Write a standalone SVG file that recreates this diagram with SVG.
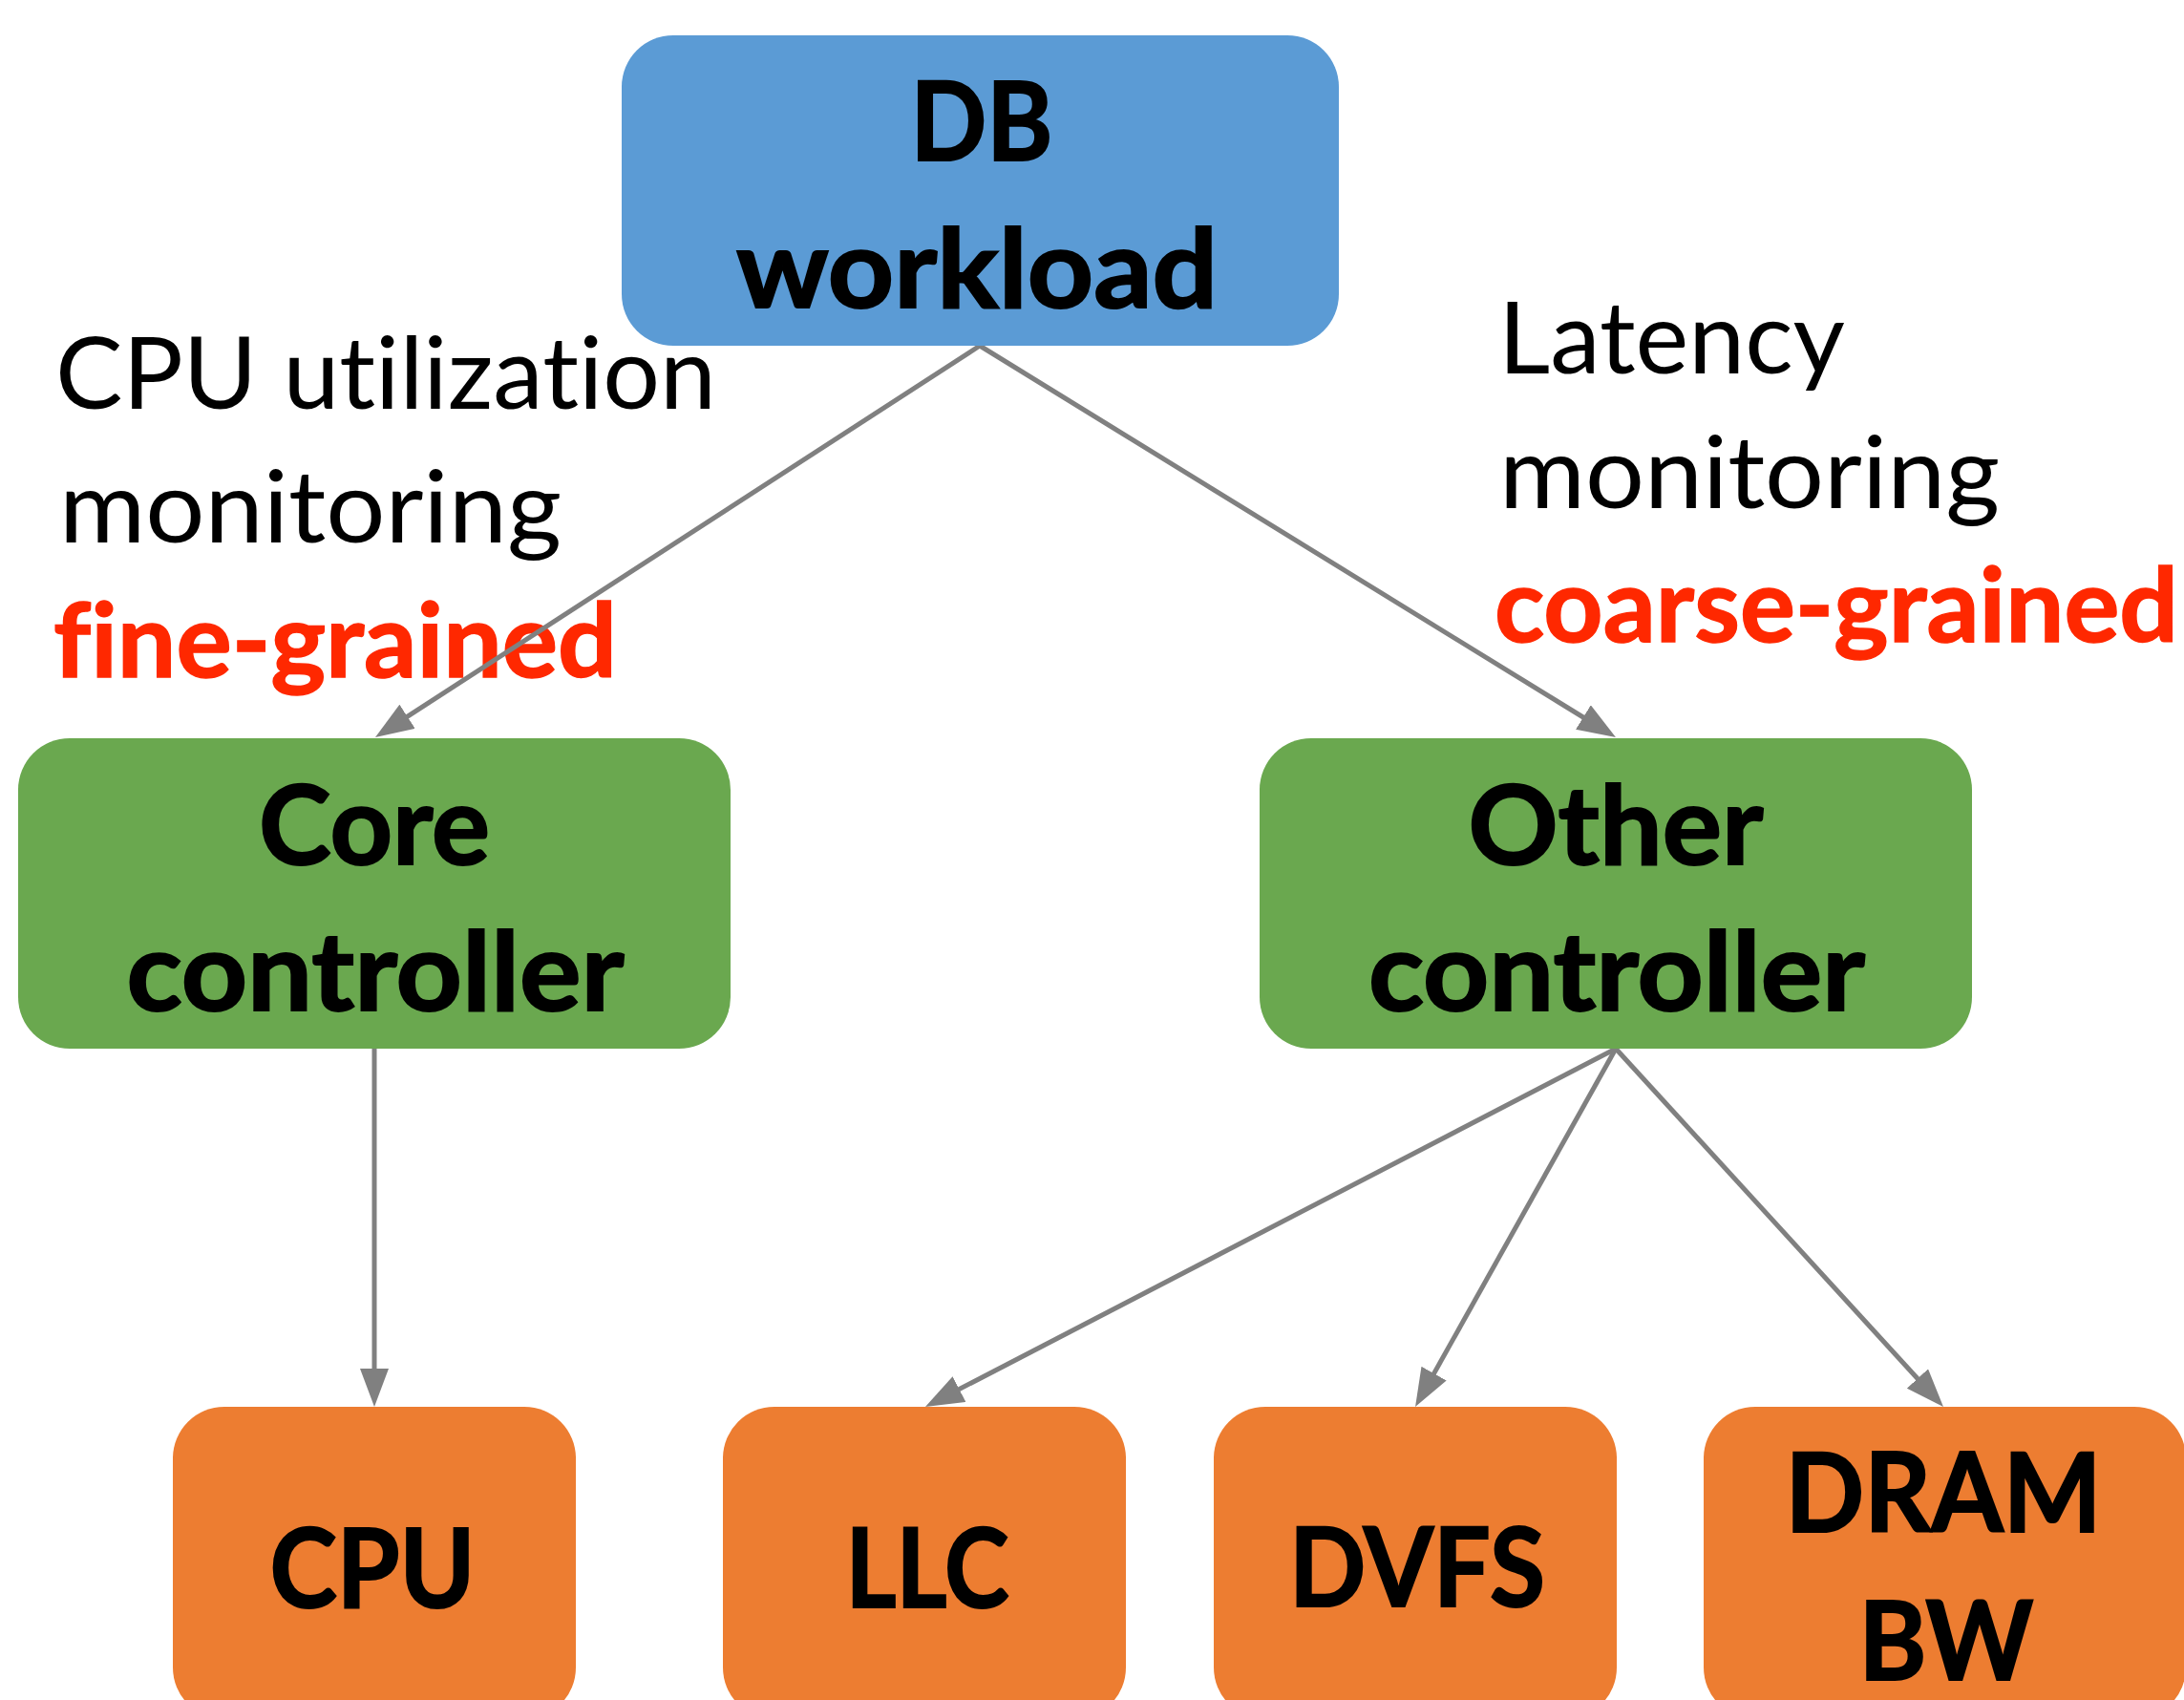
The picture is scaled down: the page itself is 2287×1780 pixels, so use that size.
<svg xmlns="http://www.w3.org/2000/svg" width="2287" height="1780" viewBox="0 0 2287 1780">
  <style>
    text { font-variant-ligatures: none; font-feature-settings: "liga" 0, "clig" 0; }
    .box-blue { fill: #5B9BD5; }
    .box-green { fill: #6AA84F; }
    .box-orange { fill: #ED7D31; }
    .node-text { font-family: Lato, "Open Sans", "Liberation Sans", sans-serif; font-weight: 700; font-size: 114px; fill: #000; stroke: #000; stroke-width: 2; text-anchor: middle; }
    .label { font-family: Lato, "Open Sans", "Liberation Sans", sans-serif; font-weight: 400; font-size: 104px; fill: #000; }
    .label-red { font-family: Lato, "Open Sans", "Liberation Sans", sans-serif; font-weight: 700; font-size: 108px; fill: #FF2800; stroke: #FF2800; stroke-width: 1.5; }
    .edge { stroke: #808080; stroke-width: 5; fill: none; }
  </style>
  <defs>
    <marker id="arrow" markerUnits="userSpaceOnUse" markerWidth="42" markerHeight="30" refX="19" refY="15" orient="auto">
      <path d="M0,0 L40,15 L0,30 z" fill="#808080"/>
    </marker>
  </defs>

  <rect width="2287" height="1780" fill="#ffffff"/>

  <!-- side annotations -->
  <g id="label-left">
    <text class="label" x="58" y="428" textLength="692" lengthAdjust="spacingAndGlyphs">CPU utilization</text>
    <text class="label" x="62" y="568" textLength="526" lengthAdjust="spacingAndGlyphs">monitoring</text>
    <text class="label-red" x="56" y="709" textLength="590" lengthAdjust="spacingAndGlyphs">fine-grained</text>
  </g>
  <g id="label-right">
    <text class="label" x="1569" y="391" textLength="363" lengthAdjust="spacingAndGlyphs">Latency</text>
    <text class="label" x="1570" y="532" textLength="524" lengthAdjust="spacingAndGlyphs">monitoring</text>
    <text class="label-red" x="1565" y="672" textLength="716" lengthAdjust="spacingAndGlyphs">coarse-grained</text>
  </g>

  <!-- connectors -->
  <g id="connectors">
    <line class="edge" x1="1026" y1="362" x2="410.6" y2="760.6" marker-end="url(#arrow)"/>
    <line class="edge" x1="1026" y1="362" x2="1674.1" y2="761" marker-end="url(#arrow)"/>
    <line class="edge" x1="392" y1="1098" x2="392" y2="1452" marker-end="url(#arrow)"/>
    <line class="edge" x1="1692" y1="1098" x2="987.6" y2="1463.3" marker-end="url(#arrow)"/>
    <line class="edge" x1="1692" y1="1098" x2="1492.3" y2="1454.7" marker-end="url(#arrow)"/>
    <line class="edge" x1="1692" y1="1098" x2="2020.8" y2="1457.5" marker-end="url(#arrow)"/>
  </g>

  <!-- nodes -->
  <g id="node-db">
    <rect class="box-blue" x="651" y="37" width="751" height="325" rx="54" ry="54"/>
    <text class="node-text" x="1028" y="168" textLength="149" lengthAdjust="spacingAndGlyphs">DB</text>
    <text class="node-text" x="1023" y="322" textLength="504" lengthAdjust="spacingAndGlyphs">workload</text>
  </g>
  <g id="node-core">
    <rect class="box-green" x="19" y="773" width="746" height="325" rx="54" ry="54"/>
    <text class="node-text" x="392" y="905" textLength="242" lengthAdjust="spacingAndGlyphs">Core</text>
    <text class="node-text" x="393" y="1058" textLength="521" lengthAdjust="spacingAndGlyphs">controller</text>
  </g>
  <g id="node-other">
    <rect class="box-green" x="1319" y="773" width="746" height="325" rx="54" ry="54"/>
    <text class="node-text" x="1692" y="905" textLength="309" lengthAdjust="spacingAndGlyphs">Other</text>
    <text class="node-text" x="1693" y="1058" textLength="520" lengthAdjust="spacingAndGlyphs">controller</text>
  </g>
  <g id="node-cpu">
    <rect class="box-orange" x="181" y="1473" width="422" height="327" rx="54" ry="54"/>
    <text class="node-text" x="390" y="1683" textLength="215" lengthAdjust="spacingAndGlyphs">CPU</text>
  </g>
  <g id="node-llc">
    <rect class="box-orange" x="757" y="1473" width="422" height="327" rx="54" ry="54"/>
    <text class="node-text" x="971" y="1683" textLength="171" lengthAdjust="spacingAndGlyphs">LLC</text>
  </g>
  <g id="node-dvfs">
    <rect class="box-orange" x="1271" y="1473" width="422" height="327" rx="54" ry="54"/>
    <text class="node-text" x="1484" y="1682" textLength="268" lengthAdjust="spacingAndGlyphs">DVFS</text>
  </g>
  <g id="node-dram">
    <rect class="box-orange" x="1784" y="1473" width="505" height="327" rx="54" ry="54"/>
    <text class="node-text" x="2035" y="1604" textLength="331" lengthAdjust="spacingAndGlyphs">DRAM</text>
    <text class="node-text" x="2038" y="1759" textLength="183" lengthAdjust="spacingAndGlyphs">BW</text>
  </g>
</svg>
